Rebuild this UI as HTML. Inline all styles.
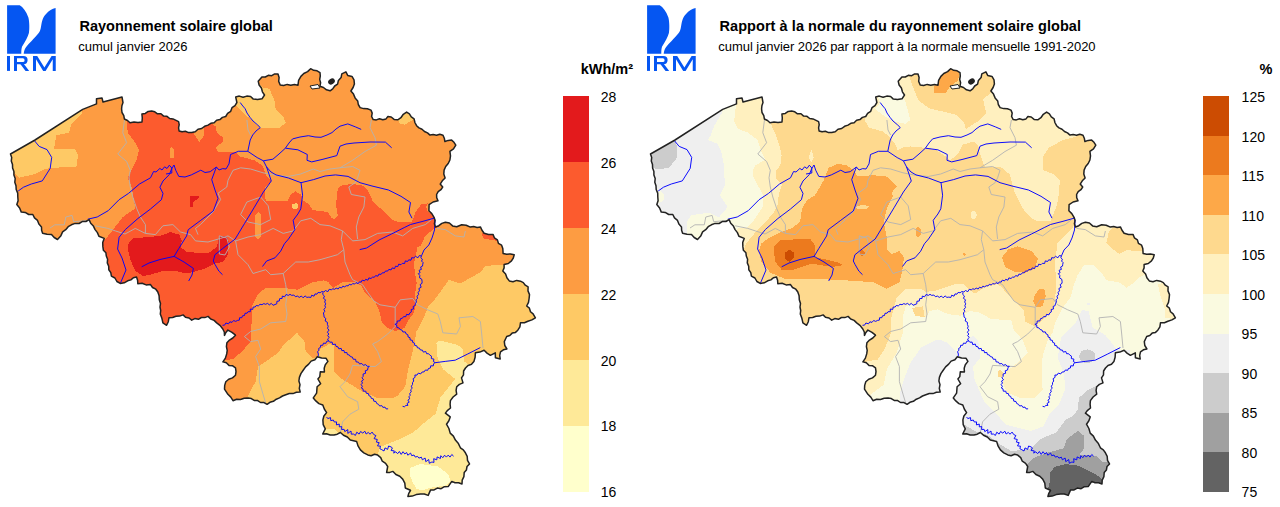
<!DOCTYPE html>
<html><head><meta charset="utf-8"><title>IRM</title>
<style>
html,body{margin:0;padding:0;background:#fff;}
body{width:1280px;height:507px;overflow:hidden;font-family:"Liberation Sans",sans-serif;}
svg{display:block;font-family:"Liberation Sans",sans-serif;}
.t{font-weight:bold;font-size:14.5px;fill:#000;}
.tl{font-weight:bold;font-size:14.5px;fill:#000;}
.s{font-size:13px;fill:#000;}
.lab text{font-size:14px;fill:#000;}
</style></head><body>
<svg width="1280" height="507" viewBox="0 0 1280 507">
<defs>
<polygon id="be" points="10.5,154.0 35.0,140.0 82.7,109.4 96.5,103.9 96.5,98.8 102.0,98.0 103.0,102.0 122.0,97.0 123.0,102.6 121.9,105.7 121.6,109.0 122.0,112.5 123.8,115.6 124.4,119.0 127.5,120.5 130.0,122.8 134.0,122.0 138.0,122.5 142.0,121.9 142.3,118.0 141.9,114.0 145.3,113.4 148.2,111.4 151.6,111.1 154.8,111.8 157.5,113.8 161.0,113.8 163.6,116.1 167.0,116.3 169.7,118.5 173.0,118.9 178.6,121.6 179.2,124.6 178.6,127.8 179.1,131.0 182.1,131.8 185.4,131.2 188.5,132.6 191.7,132.5 195.2,131.7 198.0,129.2 201.7,128.5 204.6,126.3 208.0,125.1 210.8,123.3 214.1,122.7 216.6,120.3 219.9,119.6 222.4,117.4 225.7,116.5 227.6,113.4 230.7,111.3 232.0,107.7 235.0,105.6 236.9,102.5 235.7,97.0 239.3,96.1 243.1,97.3 246.8,96.1 250.6,96.5 253.1,98.9 257.5,99.4 262.0,98.8 264.5,95.0 262.4,91.8 261.4,88.0 259.1,85.0 258.2,81.2 261.9,76.9 265.3,77.0 268.3,75.3 271.7,75.7 274.7,73.9 278.0,74.0 279.1,77.5 278.7,81.4 280.2,85.0 283.6,85.5 287.2,84.4 290.8,85.3 294.4,84.4 298.0,85.2 298.6,80.4 300.9,76.4 303.8,73.5 307.6,71.6 310.6,68.7 313.7,70.3 317.1,70.8 320.0,72.6 320.3,76.0 319.7,79.4 320.6,82.8 319.9,86.3 323.5,87.5 326.5,89.8 330.1,90.8 332.7,88.9 334.7,86.0 337.6,84.1 338.4,80.4 341.1,77.6 341.8,73.9 345.9,71.9 347.7,75.4 352.0,76.4 354.0,79.8 354.4,83.9 353.1,87.5 350.9,91.0 353.5,94.1 355.1,97.9 357.7,100.9 358.3,104.5 360.1,107.6 363.6,108.6 367.4,108.8 371.0,110.1 372.2,113.1 371.6,116.5 373.2,119.6 376.3,119.9 379.5,118.8 382.8,119.7 386.0,118.9 387.9,116.5 391.2,117.0 394.1,119.4 397.8,119.8 400.9,117.7 403.3,114.3 406.6,112.1 409.4,113.9 411.3,116.9 414.1,118.9 414.9,122.5 416.6,125.7 419.0,127.9 422.0,129.2 424.5,131.5 427.5,132.9 430.0,135.1 433.2,134.6 436.5,135.2 439.8,134.3 443.0,135.2 444.3,138.2 444.9,141.5 448.2,140.4 451.6,140.1 454.0,142.3 455.8,145.1 453.5,148.8 449.9,151.4 450.5,155.8 449.9,160.0 448.2,163.5 445.7,166.5 444.1,170.1 443.8,174.1 445.1,178.0 442.3,180.8 440.2,184.1 442.7,187.1 440.9,189.7 438.2,191.7 436.6,194.5 436.7,197.8 438.0,200.8 433.1,202.0 429.1,204.7 428.9,210.8 431.8,213.6 433.9,217.1 435.1,220.3 434.4,223.7 435.5,227.0 438.8,225.7 441.8,223.4 445.4,222.2 449.4,223.0 452.6,225.9 456.7,226.8 461.7,224.8 466.2,225.2 470.4,227.1 473.7,226.5 477.1,227.4 480.4,226.9 482.0,230.3 484.1,233.3 488.5,234.4 493.0,234.4 494.4,237.8 497.4,239.9 498.4,243.3 501.6,245.2 502.8,248.5 503.1,253.4 506.7,254.2 510.5,253.9 514.2,254.8 513.3,258.0 511.5,260.9 508.3,263.5 504.1,264.5 504.1,267.9 502.8,271.0 505.6,274.0 506.9,277.8 509.3,280.9 513.0,281.7 516.7,280.4 520.5,281.2 523.3,282.6 525.3,285.2 528.1,286.9 528.0,290.9 529.5,294.6 529.1,298.5 528.5,302.4 526.7,306.0 529.4,308.2 530.5,311.7 533.1,313.9 535.4,317.8 531.9,319.9 527.9,321.3 524.4,322.8 520.5,322.7 519.9,326.8 517.8,330.2 515.5,332.4 512.2,333.1 509.8,335.5 506.7,336.5 504.3,341.6 504.8,345.5 506.9,348.9 503.4,349.8 500.5,351.8 499.7,355.3 500.2,359.0 495.4,357.7 495.3,352.8 490.4,355.3 487.0,353.1 484.1,350.2 479.8,352.1 475.4,352.7 475.1,357.3 473.9,361.6 471.5,364.3 468.0,365.5 465.5,368.0 463.6,371.0 463.5,374.8 461.5,377.9 463.0,382.9 459.4,384.4 456.7,386.8 456.1,390.4 456.7,394.2 453.1,397.0 450.4,400.6 450.1,404.2 450.5,408.0 447.6,410.3 445.4,413.1 450.2,416.9 448.9,420.8 446.5,424.2 448.9,428.5 450.2,433.1 453.4,436.1 455.4,440.1 458.4,443.6 460.4,447.8 463.3,449.9 465.4,452.8 467.2,456.3 467.5,460.4 469.5,463.9 467.0,466.5 466.4,470.0 464.2,472.6 463.9,476.6 462.2,480.1 462.0,484.0 458.6,482.7 455.0,482.8 451.8,481.4 448.2,486.6 444.4,486.7 441.1,488.7 437.3,488.1 434.1,489.9 430.5,490.1 428.2,495.4 424.3,494.0 420.4,494.1 416.2,494.6 412.2,496.1 407.9,496.4 408.8,493.3 410.5,490.3 405.3,488.0 404.8,483.2 402.7,479.1 399.8,476.3 395.9,474.5 393.0,471.4 389.8,472.4 386.6,472.5 387.7,466.5 385.6,463.4 382.3,461.2 380.7,457.6 377.7,455.1 374.5,454.3 371.1,455.7 367.8,454.9 363.8,452.9 360.4,449.9 358.0,445.9 356.6,441.4 350.3,440.1 347.3,437.0 343.5,435.3 340.4,432.5 337.3,434.2 334.0,434.9 330.2,435.0 326.5,433.7 322.7,434.0 325.3,428.9 323.2,424.7 322.9,419.9 323.9,416.0 326.6,412.6 324.3,409.0 322.8,405.0 318.9,403.6 315.8,400.9 313.3,397.9 316.6,393.1 317.1,386.8 320.6,383.7 317.9,379.0 319.8,376.6 320.3,371.8 324.4,372.0 324.2,368.2 325.3,364.7 327.9,361.4 326.1,358.3 321.6,358.0 317.3,356.7 314.9,359.7 311.1,361.1 308.7,364.1 305.6,366.9 303.2,370.3 300.9,373.6 299.4,377.4 298.9,381.0 300.0,384.6 299.3,388.4 300.2,392.0 296.4,392.3 293.0,393.6 289.3,393.5 285.8,394.8 282.5,396.0 279.5,397.9 276.3,399.2 273.4,401.3 269.9,402.3 267.1,404.3 264.0,402.6 260.5,402.5 257.7,400.6 254.2,400.4 251.3,398.6 248.0,398.1 244.2,398.3 240.5,399.5 236.6,399.3 233.0,400.7 230.8,397.1 227.9,394.3 224.5,389.1 224.7,385.4 225.8,381.7 228.7,379.2 232.5,377.9 235.5,375.2 236.0,371.6 235.5,367.9 232.7,365.8 229.0,365.4 226.3,362.8 222.9,361.8 225.4,358.1 226.7,353.9 227.2,350.3 226.4,346.5 226.9,342.8 229.5,340.1 232.8,338.0 235.5,335.2 232.0,332.4 227.9,330.1 225.9,332.5 224.5,335.4 224.3,332.0 222.8,329.0 220.2,325.6 216.7,322.9 214.1,320.4 210.7,319.0 208.1,316.4 204.8,317.6 201.4,317.5 198.4,319.3 194.8,318.6 191.7,320.2 189.0,318.0 185.5,317.3 183.1,314.9 179.6,316.1 176.0,316.2 172.6,317.5 169.0,317.7 168.3,321.7 166.6,325.3 162.9,322.9 161.9,318.3 160.3,314.0 160.7,310.5 160.0,307.0 160.5,303.5 159.3,299.7 159.1,295.8 157.8,292.0 155.8,289.2 152.5,287.5 150.5,284.6 146.1,284.9 142.1,283.3 137.8,283.7 137.6,280.2 136.5,277.0 133.4,277.7 130.9,279.9 127.7,280.8 124.2,282.8 120.3,283.4 116.9,281.5 114.9,278.0 111.4,276.1 110.8,272.6 108.8,269.8 108.7,266.2 107.3,262.9 107.6,259.3 106.3,256.0 105.9,252.8 103.4,250.3 102.9,246.9 102.7,242.6 104.2,238.4 98.9,236.2 97.4,232.6 95.1,229.6 93.4,226.1 90.7,223.2 89.1,219.6 85.9,221.5 82.2,221.6 79.1,223.5 75.1,223.4 71.4,224.8 68.2,226.7 65.7,229.7 62.6,231.9 60.7,236.1 57.5,239.5 54.2,237.5 51.5,234.5 47.0,234.3 42.6,233.2 41.6,230.3 41.5,227.0 38.9,224.1 37.5,220.4 34.5,217.9 32.8,214.5 28.7,214.5 25.2,212.4 21.3,212.1 19.6,208.0 16.8,204.6 18.1,200.8 17.8,197.0 17.7,193.1 16.2,189.5 16.0,185.8 14.8,182.3 15.2,178.5 13.9,175.0 13.9,171.4 12.6,168.0 12.5,164.5 11.3,161.1 11.7,157.4"/>
<clipPath id="cl"><use href="#be"/></clipPath>
<g id="lines">
<g fill="none" stroke="#B2B2B2" stroke-width="0.9" stroke-linejoin="round"><polyline points="124.6,119.0 122.8,132.7 126.6,142.7 117.8,154.0 126.6,161.5 130.3,170.3 129.0,177.8 130.3,187.0 132.8,197.0 136.6,208.3 140.4,217.0 145.4,224.6 145.4,233.4"/>
<polyline points="50.0,228.0 54.9,224.8 64.3,224.8 65.8,217.0 72.1,215.4 73.7,221.7 86.5,220.5"/>
<polyline points="95.2,225.8 107.8,228.4 115.3,230.9 125.0,234.0 135.3,228.4 145.4,233.4 155.4,234.6 162.9,225.8 172.9,224.6 180.5,232.0 190.5,234.6 195.5,240.9 208.0,242.0 220.6,238.4 228.0,235.9 235.6,240.9 248.0,237.0 260.7,234.6 273.2,228.4 283.2,233.4 293.2,230.9 300.7,220.8 310.8,218.3 320.0,224.6 330.0,225.8 342.6,230.9 352.6,240.9 365.0,239.6 377.6,233.4 392.7,232.0 402.7,235.9 412.7,228.4 425.3,224.6 431.5,219.6"/>
<polyline points="246.9,120.0 248.0,130.0 250.6,135.0"/>
<polyline points="226.8,187.0 228.0,180.3 233.0,170.3 240.6,167.8 250.6,169.0 263.0,172.8 275.7,175.3 288.2,176.5 300.7,174.0 313.3,169.0 320.0,171.5 330.0,169.0 340.0,167.8 352.6,160.3 365.0,151.5 376.4,145.2 375.0,137.7 370.0,127.7 371.4,120.0"/>
<polyline points="226.8,187.0 218.0,193.3 220.6,199.5 213.0,212.0 200.5,224.6 195.5,228.4 198.0,234.6"/>
<polyline points="240.6,214.6 246.9,202.0 260.7,197.0 268.2,205.8 270.7,219.6 260.7,224.6 248.0,222.0 240.6,214.6"/>
<polyline points="340.0,167.8 352.6,166.5 360.0,170.3 357.6,177.8 355.0,182.8 348.8,187.0 351.3,194.5 365.0,197.0 363.9,207.0 358.8,217.0 356.3,227.0 357.6,239.0"/>
<polyline points="235.6,240.9 238.0,254.7 248.0,264.7 253.0,273.5 265.7,269.7 270.7,274.7 283.2,273.5 285.7,284.7 287.0,294.8 285.7,304.8 287.0,314.0 285.7,321.5 270.7,322.8 260.7,329.0 250.6,331.5 244.4,336.6 250.6,341.6 258.0,340.3 260.7,349.0 255.6,356.6 259.4,366.6 259.4,381.7 263.0,394.2 265.7,403.0"/>
<polyline points="219.3,235.9 226.8,238.0 229.3,247.0 225.0,255.0 219.3,254.0 219.3,245.0 219.3,235.9"/>
<polyline points="283.2,273.5 295.7,262.0 308.3,262.0 320.0,259.7 337.5,254.7 343.8,249.7 341.3,239.6 342.6,230.9"/>
<polyline points="343.8,249.7 345.0,262.0 350.0,274.7 352.6,279.7 362.6,284.7 367.7,292.3 373.9,301.0 380.0,304.8 395.2,307.3 400.2,299.8 412.7,298.5 417.7,304.8 427.7,309.8 437.8,314.0 440.3,321.5 442.8,332.8 456.6,334.0 460.4,326.5 459.0,317.8 472.9,316.5 480.4,321.5 481.7,334.0 483.0,348.0"/>
<polyline points="436.5,228.4 445.3,229.6 455.3,235.9 464.0,237.0 465.4,231.0"/>
<polyline points="395.2,307.3 395.2,326.5 387.7,334.0 377.6,341.6 372.6,344.0 377.6,351.6 381.4,361.6 375.1,366.6 352.6,365.4 350.0,374.0 345.0,381.7 340.0,386.7 347.6,396.7 357.6,401.7 358.8,409.2 350.0,414.2 342.6,421.8 340.3,432.6"/></g>
<g fill="none" stroke="#0000FF" stroke-width="0.95" stroke-linejoin="round"><polyline points="34.5,140.8 39.2,146.4 47.0,149.6 51.7,157.4 50.2,168.4 42.3,180.9 31.3,184.0 23.5,187.2 18.2,191.0"/>
<polyline points="87.8,219.2 97.2,217.0 108.2,210.7 119.1,199.7 128.5,193.4 139.5,184.0 150.5,177.8 153.6,171.5 156.0,172.0 159.9,168.4 162.0,170.0 164.6,166.8 167.0,168.5 169.3,165.2 171.8,168.0 171.8,173.0 166.0,174.0"/>
<polyline points="120.3,283.5 126.0,270.0 122.0,258.0 117.6,249.0 119.1,237.3 125.4,229.5 137.9,218.5 150.5,209.0 161.4,199.7 163.0,193.4 159.9,187.2 163.0,181.0 169.3,174.6 171.8,168.4"/>
<polyline points="171.8,168.4 174.0,165.0 175.7,170.2 178.8,176.4 185.0,177.0 191.3,174.9 200.8,170.2 205.0,172.5 210.2,171.7 216.4,167.0 219.0,170.0 222.7,168.6 226.0,169.0 229.0,163.9 230.5,154.5 238.4,151.3 247.8,151.3 250.2,140.0 252.7,135.0 256.0,131.0 260.3,127.6 257.7,125.0 253.0,121.0 250.2,117.6 247.0,113.0 245.2,108.8 242.0,105.0 240.2,102.5"/>
<polyline points="216.4,167.0 211.7,179.6 215.0,190.0 218.0,198.4 213.3,211.0 200.8,220.3 188.2,229.7 186.6,236.0 178.8,248.5 174.1,256.4 160.0,259.5 149.0,263.0 141.7,266.8"/>
<polyline points="174.1,256.4 184.0,262.0 193.4,268.4 192.0,275.0 188.7,281.0"/>
<polyline points="247.8,151.3 257.2,157.6 263.4,160.8 272.9,159.2 279.0,154.0 285.4,148.2 289.0,143.0 292.6,138.9 300.0,137.0 308.4,135.7 315.0,137.0 321.0,137.3 327.0,135.0 332.0,132.6 336.0,129.0 340.0,126.2 347.8,123.9 355.7,127.0 361.2,129.4"/>
<polyline points="285.4,148.2 297.9,149.8 307.3,154.5 307.0,160.3 311.7,161.9 322.0,159.5 336.8,155.6 340.0,146.2 346.0,144.0 354.0,143.0 370.0,142.0 385.4,142.1 391.7,147.8"/>
<polyline points="263.4,160.8 266.6,167.0 271.0,172.0 276.0,174.9 288.5,178.0 301.0,182.7 313.6,179.6 325.0,176.0 335.5,174.9 348.0,176.4 360.0,182.7 372.0,186.0 388.5,190.0 401.0,196.3 410.5,202.5 408.9,212.0 412.0,218.2"/>
<polyline points="301.0,182.7 302.6,195.2 300.8,208.8 297.9,214.0 293.2,220.3 294.8,229.7 288.5,239.0 284.4,243.8 280.6,251.3 275.0,257.8 266.6,261.0 262.5,266.5"/>
<polyline points="266.6,167.0 271.3,181.0 263.4,192.0 254.0,207.8 244.6,223.4 235.2,239.0 222.7,248.5 214.9,254.8 213.3,261.0 215.0,264.4 218.8,271.0 222.5,274.7"/>
<polyline points="222.5,325.3 224.6,325.1 225.9,323.0 228.5,323.8 229.9,321.8 232.0,322.4 233.6,320.5 235.7,321.4 237.5,320.4 239.4,320.1 239.6,317.7 241.8,317.7 242.5,315.8 244.5,315.5 245.0,313.3 247.1,313.2 248.0,311.7 250.3,311.7 250.3,309.0 252.8,309.4 253.1,307.1 255.2,307.0 256.2,305.5 258.3,305.9 260.0,304.3 262.0,304.7 263.8,303.6 265.6,304.3 267.6,303.4 269.3,304.9 271.3,303.4 273.1,305.3 275.0,304.5 276.8,303.8 276.9,301.3 279.3,301.0 279.6,298.7 282.1,298.4 282.3,296.1 284.6,296.8 286.0,294.5 288.3,295.4 290.0,294.3 291.7,295.4 293.8,295.0 295.4,296.7 297.5,296.1 299.3,297.4 301.3,296.0 303.1,297.8 305.1,295.9 306.9,297.4 308.8,297.1 310.8,297.5 311.7,295.2 314.0,296.2 315.0,293.9 316.9,294.2 318.1,292.4 320.1,292.8 321.8,291.5 323.9,292.0 325.5,290.5 327.8,291.7 329.2,289.3 331.3,289.8 332.8,288.8 334.7,289.3 336.2,288.1 338.2,289.0 339.5,287.2 341.5,288.0 342.8,286.2 344.7,286.9 346.2,285.7 348.1,285.9 349.3,284.3 351.3,285.0 352.7,283.5 354.6,284.1 356.0,282.6 358.1,283.7 359.3,281.9 361.2,282.1 362.3,280.1 364.5,280.9 365.7,279.3 367.9,280.2 368.9,277.9 371.0,278.5 372.4,277.2 374.4,277.2 375.6,275.6 377.9,276.2 378.9,274.1 381.1,274.4 382.3,272.8 384.3,272.8 385.5,271.0 387.6,271.1 388.8,269.4 391.1,269.9 392.2,267.9 394.6,268.6 395.5,266.2 397.8,266.6 398.7,264.2 401.0,264.7 402.4,263.3 404.6,263.5 405.3,260.9 407.6,261.5 408.7,259.8 411.0,260.2 411.7,257.7 413.9,257.9 415.5,256.3 417.9,257.8 419.4,255.5 421.5,256.0"/>
<polyline points="421.5,255.8 424.0,250.0 428.8,245.0 432.0,238.0 434.5,230.0 435.0,222.0 434.0,217.0"/>
<polyline points="322.8,292.5 322.8,294.5 324.5,296.1 323.4,298.3 325.5,299.8 324.7,302.0 325.7,303.8 324.9,305.6 325.5,307.6 323.9,309.3 324.8,311.3 323.4,313.0 323.9,315.0 324.1,317.1 325.8,318.5 325.2,321.0 327.4,322.3 327.4,324.4 328.2,326.3 327.5,328.3 329.0,330.1 327.4,332.2 328.8,334.0 327.6,335.7 329.3,337.4 327.5,339.1 328.8,340.8 326.7,341.3 325.8,343.4 323.5,343.1 322.7,345.3 320.6,345.3 320.5,347.3 318.7,348.4 318.9,350.4 317.5,351.6 318.4,354.0 318.2,356.4"/>
<polyline points="328.5,340.8 329.8,342.2 332.1,342.1 332.7,344.6 335.3,344.1 336.0,346.4 338.0,346.9 338.8,348.8 341.2,348.4 341.8,350.6 344.0,350.5 344.5,352.7 346.9,352.5 347.4,354.6 349.4,355.0 350.3,356.6 352.4,357.1 353.2,359.2 355.6,359.3 356.1,361.9 358.4,362.1 359.5,363.9 361.8,363.5 363.4,365.3 365.7,364.6 367.2,366.3 369.3,366.3 367.9,367.9 367.6,370.0 365.2,370.8 365.6,373.3 363.1,374.0 363.2,376.3 362.0,377.8 363.5,379.7 361.5,381.1 362.5,383.0 361.1,384.5 362.4,386.4 361.3,388.0 363.0,388.9 363.3,391.2 365.8,391.2 366.3,393.3 368.4,393.6 368.9,395.7 370.7,396.4 371.3,398.4 373.4,398.9 373.8,401.2 376.0,401.5 376.7,403.5 378.5,404.3 379.6,406.0 381.8,405.6 382.9,407.4 385.0,407.1 386.1,408.9 388.1,408.8"/>
<polyline points="421.5,255.8 420.8,257.7 422.4,259.2 421.6,261.1 423.1,262.6 422.7,264.5 422.5,266.1 420.6,267.1 421.4,269.4 419.1,270.3 420.1,272.7 418.3,273.7 419.8,275.4 419.6,277.9 421.7,279.2 422.1,281.4 422.0,283.3 420.1,284.7 421.2,287.2 418.9,288.5 419.5,290.8 418.1,292.4 418.6,294.5 417.0,296.2 417.6,298.3 416.0,299.9 416.4,302.0 415.4,303.7 415.1,305.6 413.1,306.5 413.6,308.9 411.2,309.5 411.4,311.8 409.8,312.9 409.0,314.8 406.5,314.4 405.8,316.7 403.6,316.6 402.4,318.2 400.5,318.7 399.9,320.9 397.2,321.0 397.0,323.6 394.9,324.3 396.7,325.1 396.9,327.5 398.9,327.9 400.1,329.5 402.0,330.1 402.9,332.0 405.3,331.9 406.2,334.0 407.9,334.8 408.1,337.0 410.0,337.7 410.1,339.9 412.4,340.4 412.7,342.4 414.6,343.1 414.7,345.4 416.9,345.9 417.4,347.8 419.4,348.1 420.4,350.0 422.4,350.1 423.3,352.1 425.8,351.5 426.6,353.7 428.6,353.7 429.9,355.2 431.5,356.2 431.3,358.6 433.9,359.1 433.4,361.6 435.2,362.6 433.6,363.7 433.3,365.9 430.7,365.8 430.4,368.0 428.4,368.5 427.7,370.3 425.4,370.0 424.1,371.9 422.1,372.0 420.7,373.9 418.3,373.1 417.0,375.1 414.9,375.0 415.1,377.3 413.1,378.7 413.7,381.0 412.5,382.7 412.5,384.6 411.3,386.2 412.2,388.3 410.6,389.8 411.3,391.8 409.7,393.4 410.2,395.3 408.9,396.8 409.7,398.8 407.9,400.1 409.2,402.2 407.1,403.4 407.9,405.4 405.9,405.4 404.4,406.8 402.6,406.3"/>
<polyline points="435.1,362.7 445.2,361.4 455.2,360.2 467.7,354.0 480.3,347.6"/>
<polyline points="434.0,218.2 423.0,221.3 410.5,224.5 404.2,227.6 391.7,233.9 379.1,240.0 366.6,248.0 359.7,249.6"/>
<polyline points="326.6,417.0 327.8,418.6 330.5,417.6 330.8,420.7 333.3,420.0 334.3,422.0 336.6,421.9 336.4,424.9 339.3,424.1 339.3,426.9 341.8,426.6 341.6,429.5 344.1,429.3 344.8,431.6 347.8,429.6 347.8,433.4 351.0,431.0 351.3,434.2 353.4,434.0 355.4,435.4 356.8,432.2 359.1,434.1 360.6,431.5 362.8,433.1 364.8,431.2 366.2,434.0 368.3,432.4 370.0,434.2 372.1,432.1 373.7,434.5 375.9,435.6 374.1,438.6 377.3,439.5 376.4,442.1 379.2,442.7 377.5,445.9 380.5,446.2 379.9,448.7 381.8,449.7 384.0,451.0 385.0,447.9 387.6,449.4 388.6,446.0 391.0,446.9 392.4,447.9 391.1,450.5 394.3,450.9 393.7,453.1 395.8,451.8 397.6,453.7 399.4,451.5 401.2,454.4 403.0,451.7 404.8,454.0 406.6,452.5 407.8,455.2 410.6,453.1 411.7,455.7 414.0,455.0 415.3,457.1 417.6,456.4 418.9,458.1 421.4,457.2 422.4,459.8 425.1,458.0 425.8,461.7 428.7,459.5 429.3,463.3 431.9,462.0 434.0,462.4 433.7,458.7 436.8,459.8 437.1,456.9 440.4,458.5 440.8,455.7 442.8,457.7 444.6,455.2 446.4,457.1 448.2,455.1 450.0,457.1 451.8,454.5 453.6,456.2"/></g>
<ellipse cx="331.5" cy="81.5" rx="3.6" ry="2.7" fill="#222" transform="rotate(-35 331.5 81.5)"/>
<path d="M310,86 L318,84.5 L320,88 L312,89 Z" fill="#fff" stroke="#222" stroke-width="1"/>
<use href="#be" fill="none" stroke="#222" stroke-width="1.5" stroke-linejoin="round"/>
</g>
</defs>
<rect width="1280" height="507" fill="#fff"/>
<g clip-path="url(#cl)" shape-rendering="crispEdges">
<rect x="0" y="60" width="560" height="447" fill="#FD9C42"/>
<polygon fill="#FC5B2E" points="126.6,122.7 126.0,110.0 140.0,100.0 175.0,105.0 192.0,128.0 194.2,134.0 199.2,142.2 203.5,136.4 203.5,126.0 208.0,120.0 215.5,126.4 216.8,132.7 223.0,137.7 223.0,141.5 215.5,147.7 218.0,151.5 234.3,151.5 240.3,156.6 254.4,160.3 262.8,166.0 265.6,174.4 271.0,181.0 264.7,187.5 265.6,200.6 288.0,200.6 291.0,194.0 295.6,191.3 301.3,195.0 302.2,199.7 308.8,204.4 312.5,210.0 327.5,211.9 331.3,217.5 334.0,219.4 337.8,215.6 336.0,204.4 337.8,188.4 341.6,185.6 351.9,183.8 363.0,185.6 367.8,190.3 372.5,200.6 380.0,208.0 387.5,214.7 393.0,220.3 398.8,222.0 411.9,222.0 415.6,211.9 421.3,204.4 427.8,203.4 426.0,207.0 428.0,212.0 440.0,217.0 440.0,226.0 434.0,228.8 425.0,236.0 421.3,245.0 417.5,247.5 413.8,264.4 416.6,283.0 414.7,298.0 415.6,305.6 413.8,313.0 408.0,320.6 404.4,328.0 395.0,331.0 387.5,328.0 381.9,322.5 380.0,313.0 375.3,301.9 365.0,292.5 361.3,286.0 355.6,282.2 342.5,282.2 333.0,287.8 328.4,282.2 323.8,280.3 312.5,282.2 297.5,289.7 282.5,287.8 265.6,287.8 258.0,294.4 252.5,304.7 251.6,322.5 250.6,341.6 241.9,351.6 233.0,359.0 215.0,362.0 210.0,335.0 150.0,330.0 145.0,295.0 100.0,290.0 95.0,245.0 104.0,240.9 108.0,236.0 114.0,228.4 122.8,217.0 135.3,208.3 131.6,187.0 127.8,177.8 130.0,172.8 136.6,160.0 139.0,150.0 135.3,142.7 127.8,132.7"/>
<polygon fill="#E31A1C" points="127.8,244.6 132.8,238.4 160.4,235.9 170.4,232.0 179.2,234.6 181.7,240.9 180.5,247.0 186.7,252.0 208.0,253.4 216.8,247.0 219.3,235.9 226.8,235.9 228.6,240.9 228.0,254.7 223.0,262.0 215.5,263.4 205.5,268.4 193.0,272.0 186.7,273.5 175.4,271.0 163.0,271.0 150.4,274.7 142.9,276.0 135.3,271.0 130.3,259.7 127.8,249.6"/>
<polygon fill="#E31A1C" points="189.7,196.3 198.7,196.3 198.7,198.3 193.0,202.0 193.0,207.0 189.7,207.0"/>
<polygon fill="#FD9C42" points="169.7,149.0 171.7,147.0 173.7,149.0 173.7,158.2 169.7,158.2"/>
<polygon fill="#FD9C42" points="255.3,215.0 258.0,212.0 261.0,215.0 261.0,236.5 258.0,239.0 255.3,236.5"/>
<polygon fill="#FEC965" points="292.0,204.5 296.0,203.0 298.5,205.0 298.0,208.0 294.0,209.5 292.0,208.0"/>
<polygon fill="#FC5B2E" points="481.6,233.0 493.0,233.0 497.0,240.9 483.0,238.4"/>
<polygon fill="#FEC965" points="81.5,106.0 81.5,114.0 71.4,124.0 69.0,132.7 56.4,135.2 54.0,149.0 75.0,149.0 78.0,155.0 76.4,166.5 50.0,168.0 45.0,169.0 35.0,174.0 18.8,177.8 15.0,173.0 5.0,160.0 5.0,150.0"/>
<polygon fill="#FEC965" points="230.0,95.0 236.8,106.4 244.4,113.9 253.0,121.4 260.7,128.2 279.4,128.2 285.7,122.7 283.2,116.4 275.7,108.9 274.4,100.0 269.4,88.8 263.0,87.6 256.0,80.0 250.0,90.0"/>
<polygon fill="#FEC965" points="397.7,120.0 403.0,108.0 410.0,108.0 414.0,119.0 405.0,124.7 400.0,124.0"/>
<polygon fill="#FEC965" points="250.6,390.4 255.6,381.7 258.0,366.6 269.4,359.0 278.0,352.8 283.2,345.3 297.0,332.8 304.5,341.6 305.7,351.6 313.4,358.4 318.0,356.0 312.0,370.0 305.0,400.0 267.0,412.0 245.0,402.0"/>
<polygon fill="#FEC965" points="317.3,356.8 320.5,349.0 329.0,344.2 333.9,345.0 333.9,371.0 339.4,377.3 352.0,385.2 362.6,391.7 377.6,398.0 392.7,398.0 397.7,395.5 405.2,386.7 407.7,371.6 412.7,351.6 416.5,331.5 420.3,324.0 425.3,314.0 427.8,307.3 436.5,297.3 441.6,290.0 449.0,279.7 460.4,283.5 480.4,272.2 485.4,265.9 503.0,264.7 545.0,264.0 545.0,505.0 310.0,505.0 310.0,360.0"/>
<polygon fill="#FEE998" points="377.8,455.0 380.0,447.0 387.9,443.9 400.4,438.9 413.0,432.6 423.0,423.9 435.5,413.8 440.5,397.5 451.4,383.9 455.2,378.9 442.7,368.9 437.6,357.6 436.4,342.6 440.0,340.6 457.7,345.0 462.7,348.8 464.0,361.4 468.0,364.0 480.0,360.0 480.0,505.0 370.0,505.0"/>
<polygon fill="#FEE998" points="324.0,428.9 334.0,428.9 339.0,433.9 334.0,438.0 320.0,436.0"/>
<polygon fill="#FFFFCC" points="410.4,467.7 420.4,464.0 438.0,466.5 448.0,474.0 450.5,480.3 446.7,485.3 430.5,487.8 423.0,490.3 416.7,489.0 413.0,482.8 410.4,476.5"/>
</g>
<use href="#lines"/>
<g transform="translate(640,0)">
<g clip-path="url(#cl)" shape-rendering="crispEdges">
<rect x="0" y="60" width="560" height="447" fill="#FFF0BF"/>
<polygon fill="#FAFAE0" points="96.5,100.0 95.2,112.6 94.0,121.3 97.7,128.8 107.8,132.6 117.8,140.0 120.3,149.0 125.3,160.0 115.3,165.2 112.5,171.0 113.6,177.9 119.0,187.4 123.0,195.2 123.0,206.3 113.6,220.5 107.3,227.6 97.9,227.6 94.0,240.0 0.0,240.0 0.0,100.0"/>
<polygon fill="#FAFAE0" points="240.2,102.5 235.2,108.8 242.7,115.0 254.0,121.3 265.3,123.8 270.3,120.0 267.8,110.0 265.3,101.3 262.0,96.0 250.0,92.0 236.0,94.0"/>
<polygon fill="#FAFAE0" points="225.0,400.0 231.3,394.0 243.9,384.6 247.0,369.0 256.4,353.3 262.6,334.0 262.6,317.3 265.7,306.3 272.0,304.0 278.0,312.0 286.2,317.3 289.4,311.0 297.3,309.4 308.3,314.2 320.9,315.7 330.4,311.0 339.9,312.6 350.9,318.9 371.4,320.5 373.9,330.0 382.7,340.0 387.7,352.7 377.6,362.7 365.0,372.7 362.6,382.7 367.6,392.8 380.0,397.8 395.2,397.8 402.7,390.3 401.5,372.7 402.7,355.2 407.7,340.0 412.7,332.6 415.2,322.6 422.8,307.5 430.3,297.5 432.6,290.0 433.8,285.2 437.6,275.2 443.9,265.2 453.9,265.2 461.4,272.7 466.4,280.2 480.2,282.7 486.5,287.7 494.0,282.7 499.0,277.7 504.0,275.0 515.0,268.0 545.0,268.0 545.0,505.0 225.0,505.0"/>
<polygon fill="#FFF0BF" points="517.8,284.0 520.3,295.2 525.3,310.3 525.3,317.8 540.0,320.0 540.0,280.0"/>
<polygon fill="#EFEFEF" points="81.5,105.0 81.5,113.8 74.0,126.3 70.2,136.4 67.7,140.0 77.7,143.9 81.5,152.7 84.0,165.2 83.7,170.0 85.2,184.2 79.7,195.2 87.6,207.0 79.0,217.3 69.5,212.5 60.0,214.0 51.0,215.0 47.5,221.0 47.0,240.0 0.0,240.0 0.0,105.0"/>
<polygon fill="#FAFAE0" points="15.0,188.0 18.8,190.0 23.8,194.0 23.8,200.0 20.0,202.8 15.0,203.0"/>
<polygon fill="#CCCCCC" points="10.5,154.0 35.0,139.0 36.8,146.4 37.0,157.7 28.8,168.2 16.3,169.0 5.0,165.0 5.0,154.0"/>
<polygon fill="#EFEFEF" points="294.0,340.8 281.5,347.0 270.5,362.7 264.3,378.4 259.6,394.0 261.0,410.0 300.0,410.0 320.0,400.0 318.0,356.0 316.0,351.7 306.6,342.3 298.9,339.4"/>
<polygon fill="#EFEFEF" points="314.0,356.0 325.4,343.9 329.0,338.0 333.6,336.0 338.0,341.0 340.0,350.0 340.0,358.0 333.0,367.0 334.5,379.3 343.9,401.3 356.4,413.8 365.8,424.8 390.9,431.0 403.4,426.4 409.7,413.8 419.0,404.4 425.4,388.8 423.8,373.0 417.7,357.7 421.0,337.6 435.5,322.6 442.0,310.0 448.5,311.0 452.7,327.6 465.2,335.0 472.7,343.9 476.5,350.0 490.0,350.0 490.0,505.0 310.0,505.0"/>
<polygon fill="#EFEFEF" points="450.6,304.0 450.0,305.1 448.6,305.5 447.2,305.1 446.6,304.0 447.2,302.9 448.6,302.5 450.0,302.9"/>
<polygon fill="#CCCCCC" points="318.0,423.0 322.0,423.0 334.5,431.0 347.3,434.8 359.9,444.2 372.0,451.4 390.9,448.3 400.3,439.0 416.0,432.6 425.4,420.0 431.4,417.0 437.6,410.3 438.9,397.8 447.7,390.3 455.2,386.5 465.0,383.0 480.0,383.0 480.0,505.0 318.0,505.0"/>
<polygon fill="#CCCCCC" points="455.2,356.2 454.6,358.8 452.9,361.0 450.3,362.5 447.2,363.0 444.1,362.5 441.5,361.0 439.8,358.8 439.2,356.2 439.8,353.6 441.5,351.4 444.1,349.9 447.2,349.4 450.3,349.9 452.9,351.4 454.6,353.6"/>
<polygon fill="#A0A0A0" points="380.0,464.0 387.8,464.0 394.0,457.7 406.6,453.0 423.8,448.3 427.0,439.0 437.9,431.0 444.2,435.8 444.2,448.3 439.5,454.6 456.7,456.0 463.0,462.4 475.0,462.0 475.0,505.0 380.0,505.0"/>
<polygon fill="#636363" points="409.7,473.4 414.4,467.0 425.4,464.0 437.9,465.6 450.5,471.8 456.7,475.0 463.0,479.7 470.0,480.0 470.0,500.0 405.0,500.0 409.7,482.8"/>
<polygon fill="#FED98E" points="130.3,122.6 128.0,110.0 150.0,100.0 200.0,110.0 225.2,118.0 225.2,121.3 229.0,127.6 242.7,131.4 249.0,136.4 255.2,143.9 257.7,150.2 262.8,147.6 270.3,146.4 282.8,147.6 287.8,147.6 296.6,150.2 305.4,156.4 310.2,160.3 318.0,154.0 322.7,144.6 333.7,141.5 338.4,146.2 340.0,154.0 344.6,166.6 360.3,166.6 369.7,174.4 374.4,191.7 382.3,207.3 385.4,212.0 391.7,218.2 398.0,221.3 410.5,221.3 416.7,205.7 418.3,198.0 419.9,180.7 413.6,174.4 402.6,169.7 402.6,157.2 408.9,147.8 423.0,139.9 435.5,136.8 445.0,130.0 462.0,145.0 452.0,190.0 442.0,215.0 432.6,227.6 425.0,235.0 417.5,242.6 415.0,262.7 416.3,285.2 415.0,300.3 412.5,310.3 407.3,315.4 402.7,320.0 394.8,326.4 385.4,321.7 383.8,310.7 371.4,298.4 366.7,293.7 362.0,287.4 357.2,284.2 344.6,287.4 335.1,293.7 330.4,290.5 324.1,284.2 314.6,284.2 295.7,290.5 286.2,292.0 281.5,289.0 265.7,289.0 256.3,298.4 251.5,317.3 250.8,333.0 248.6,340.0 243.9,350.0 237.6,359.6 228.2,361.0 215.0,365.0 210.0,340.0 150.0,330.0 145.0,295.0 100.0,290.0 98.0,250.0 104.0,250.0 105.7,244.0 112.0,236.2 123.0,224.4 132.6,214.2 137.3,206.3 138.9,193.7 142.0,185.0 135.7,177.9 136.5,170.0 140.4,165.2 141.6,155.2 139.0,143.9 135.3,133.9"/>
<polygon fill="#FFF0BF" points="171.3,148.9 173.8,157.7 171.3,162.7 168.8,157.7"/>
<polygon fill="#FFF0BF" points="336.7,215.0 336.1,217.7 334.6,219.4 332.8,219.4 331.3,217.7 330.7,215.0 331.3,212.3 332.8,210.6 334.6,210.6 336.1,212.3"/>
<polygon fill="#FED98E" points="269.4,77.0 274.0,89.8 278.8,100.8 289.8,108.6 303.9,111.7 316.4,114.9 324.3,122.7 325.8,129.0 338.4,121.0 346.2,113.3 343.0,99.2 351.0,93.0 358.0,85.0 350.0,65.0 300.0,60.0 265.0,70.0"/>
<polygon fill="#FED98E" points="466.4,242.6 468.9,231.3 475.2,226.3 480.0,222.0 500.0,225.0 510.0,252.0 500.3,251.4 486.5,250.0 479.0,253.9 472.7,248.9"/>
<polygon fill="#FED98E" points="272.0,307.9 283.0,306.3 284.7,317.3 275.2,315.7"/>
<polygon fill="#FED98E" points="357.6,371.0 361.0,370.0 363.9,373.0 362.0,377.7 358.0,377.0"/>
<polygon fill="#FDA848" points="188.8,167.7 197.6,163.9 206.4,165.2 213.9,170.2 217.6,176.5 232.7,175.2 246.5,176.5 256.5,186.5 251.5,192.8 253.0,196.3 246.7,208.8 243.6,221.3 246.7,237.0 246.7,249.6 251.4,254.3 259.3,251.0 264.0,257.4 262.4,270.0 259.3,282.5 246.7,288.7 234.2,282.5 215.4,280.9 184.0,279.3 146.4,279.3 130.8,273.0 121.3,262.0 119.0,250.0 121.5,243.3 129.4,237.8 138.9,233.0 151.5,228.4 160.0,222.0 162.0,208.8 167.0,200.0 175.0,195.3 183.8,180.2"/>
<polygon fill="#FED98E" points="229.0,207.0 227.9,208.1 224.9,208.7 221.1,208.7 218.1,208.1 217.0,207.0 218.1,205.9 221.1,205.3 224.9,205.3 227.9,205.9"/>
<polygon fill="#FED98E" points="228.0,207.5 226.9,208.6 223.9,209.2 220.1,209.2 217.1,208.6 216.0,207.5 217.1,206.4 220.1,205.8 223.9,205.8 226.9,206.4"/>
<polygon fill="#FDA848" points="297.6,80.4 307.0,71.0 312.0,66.0 320.0,70.0 318.0,80.4 310.0,86.6 305.5,93.0 294.5,93.0 293.9,86.6"/>
<polygon fill="#FDA848" points="361.9,257.4 368.2,249.6 377.6,246.4 391.7,251.0 398.0,259.0 394.8,268.4 385.4,273.0 374.4,271.5 365.0,266.8"/>
<polygon fill="#FDA848" points="394.8,295.0 399.5,288.7 404.2,288.7 405.8,296.6 402.6,306.0 396.4,307.5 393.2,301.3"/>
<polygon fill="#FDA848" points="275.7,229.0 278.0,226.0 280.6,229.0 281.0,235.0 278.0,237.5 275.7,235.0"/>
<polygon fill="#FDA848" points="325.6,254.3 325.2,255.2 324.3,255.6 323.4,255.2 323.0,254.3 323.4,253.4 324.3,253.0 325.2,253.4"/>
<polygon fill="#EC7A1E" points="133.9,246.4 140.2,240.2 170.0,238.6 174.6,244.9 174.6,257.4 184.0,259.0 196.6,262.0 202.9,265.2 193.5,266.8 181.0,265.2 171.5,263.7 152.7,270.0 141.7,270.0 135.5,262.0 133.9,252.7"/>
<polygon fill="#EC7A1E" points="218.5,252.7 221.7,249.6 225.4,252.7 221.7,256.5"/>
<polygon fill="#CC4C02" points="144.9,252.7 149.6,249.6 154.3,252.7 154.3,257.4 149.6,262.0 144.9,259.0"/>
</g>
<use href="#lines"/>
</g>
<g id="logo"><path fill="#0556F2" d="M7.1,5.2 L19.7,5.2 C23,7 26,11 28.4,17.4 C29.5,22 29.6,29 28.9,33.1 C28,37 25,42 22.1,46.5 C21.3,49 21.3,51 21.3,53.8 L7.1,53.8 Z"/>
<path fill="#0556F2" d="M55.6,7.9 C52,8.6 49,10.5 46.5,13.4 C44,16 43,18 42.3,20.5 C41.5,23 41.3,25 41,26.8 C40.5,29.5 40,31.5 38.7,33.1 C36,36.5 34,38.5 31.6,41 C29,43.5 27.5,45 26,47.3 C24.8,49 24,51 23.7,53.8 L55.6,53.8 Z"/>
<g fill="#0556F2"><rect x="7" y="56" width="3" height="14.9"/>
<path fill-rule="evenodd" d="M14,56 H23.3 Q27.6,56 27.6,60.1 Q27.6,64.3 23.3,64.3 H17 V70.9 H14 Z M17,58.3 H22.8 Q24.6,58.3 24.6,60.15 Q24.6,62 22.8,62 H17 Z"/>
<path d="M20.3,64 H23.9 L29.2,70.9 H25.6 Z"/>
<path d="M33,70.9 V56 H37.2 L44.4,67.6 L51.6,56 H55.75 V70.9 H52.75 V59.2 L45.6,70.9 H43.2 L36,59.2 V70.9 Z"/></g></g>
<use href="#logo" x="640"/>
<text class="t" x="79.5" y="30.8">Rayonnement solaire global</text>
<text class="s" x="78.3" y="51.3">cumul janvier 2026</text>
<text class="t" x="719.5" y="30.8" textLength="361.5" lengthAdjust="spacing">Rapport à la normale du rayonnement solaire global</text>
<text class="s" x="718.3" y="51.3" textLength="377.3" lengthAdjust="spacing">cumul janvier 2026 par rapport à la normale mensuelle 1991-2020</text>
<text class="tl" x="633" y="74.4" text-anchor="end">kWh/m²</text>
<text class="tl" x="1272.5" y="74.4" text-anchor="end">%</text>
<g shape-rendering="crispEdges"><rect x="563" y="96" width="26" height="66" fill="#E31A1C"/><rect x="563" y="162" width="26" height="66" fill="#FC5B2E"/><rect x="563" y="228" width="26" height="66" fill="#FD9C42"/><rect x="563" y="294" width="26" height="66" fill="#FEC965"/><rect x="563" y="360" width="26" height="66" fill="#FEE998"/><rect x="563" y="426" width="26" height="66" fill="#FFFFCC"/><rect x="1203" y="96.0" width="26" height="39.6" fill="#CC4C02"/><rect x="1203" y="135.6" width="26" height="39.6" fill="#EC7A1E"/><rect x="1203" y="175.2" width="26" height="39.6" fill="#FDA848"/><rect x="1203" y="214.8" width="26" height="39.6" fill="#FED98E"/><rect x="1203" y="254.4" width="26" height="39.6" fill="#FFF0BF"/><rect x="1203" y="294.0" width="26" height="39.6" fill="#FAFAE0"/><rect x="1203" y="333.6" width="26" height="39.6" fill="#EFEFEF"/><rect x="1203" y="373.2" width="26" height="39.6" fill="#CCCCCC"/><rect x="1203" y="412.8" width="26" height="39.6" fill="#A0A0A0"/><rect x="1203" y="452.4" width="26" height="39.6" fill="#636363"/></g>
<g class="lab"><text x="600.7" y="102.2">28</text><text x="600.7" y="168.0">26</text><text x="600.7" y="233.9">24</text><text x="600.7" y="299.7">22</text><text x="600.7" y="365.5">20</text><text x="600.7" y="431.3">18</text><text x="600.7" y="497.2">16</text><text x="1241.6" y="102.2">125</text><text x="1241.6" y="141.7">120</text><text x="1241.6" y="181.2">115</text><text x="1241.6" y="220.7">110</text><text x="1241.6" y="260.2">105</text><text x="1241.6" y="299.7">100</text><text x="1241.6" y="339.2">95</text><text x="1241.6" y="378.7">90</text><text x="1241.6" y="418.2">85</text><text x="1241.6" y="457.7">80</text><text x="1241.6" y="497.2">75</text></g>
</svg>
</body></html>
